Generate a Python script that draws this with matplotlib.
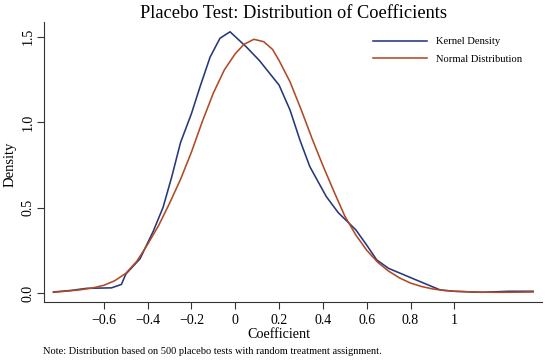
import matplotlib
matplotlib.use("Agg")
import matplotlib.pyplot as plt

# Kernel density
kd_x = [-0.83, -0.75, -0.68, -0.565, -0.52, -0.50, -0.435, -0.375, -0.33, -0.29, -0.25,
        -0.20, -0.16, -0.115, -0.07, -0.024, 0.05, 0.11, 0.20, 0.25, 0.295, 0.34, 0.415,
        0.47, 0.55, 0.60, 0.646, 0.70, 0.815, 0.935, 1.0, 1.125, 1.25, 1.36]
kd_y = [0.006, 0.015, 0.027, 0.030, 0.050, 0.110, 0.200, 0.360, 0.500, 0.680, 0.880,
        1.050, 1.210, 1.380, 1.490, 1.528, 1.440, 1.360, 1.216, 1.070, 0.895, 0.740, 0.565,
        0.470, 0.370, 0.280, 0.193, 0.144, 0.082, 0.018, 0.010, 0.004, 0.010, 0.010]

# Normal distribution
nd_x = [-0.83, -0.75, -0.70, -0.65, -0.60, -0.55, -0.50, -0.45, -0.40, -0.35, -0.30,
        -0.25, -0.20, -0.15, -0.10, -0.05, 0.00, 0.04, 0.085, 0.13, 0.17, 0.20, 0.25,
        0.30, 0.35, 0.40, 0.45, 0.50, 0.55, 0.60, 0.65, 0.70, 0.75, 0.80, 0.85, 0.90,
        0.95, 1.00, 1.10, 1.20, 1.30, 1.36]
nd_y = [0.004, 0.013, 0.020, 0.030, 0.045, 0.072, 0.115, 0.185, 0.285, 0.395, 0.525,
        0.665, 0.825, 1.005, 1.170, 1.305, 1.400, 1.455, 1.484, 1.470, 1.425, 1.360, 1.235,
        1.075, 0.905, 0.745, 0.595, 0.450, 0.340, 0.250, 0.180, 0.128, 0.088, 0.058, 0.038, 0.024,
        0.015, 0.010, 0.005, 0.004, 0.005, 0.006]

x_ticks = [-0.6, -0.4, -0.2, 0, 0.2, 0.4, 0.6, 0.8, 1]
x_ticklabels = ["\u22120.6", "\u22120.4", "\u22120.2", "0", "0.2", "0.4", "0.6", "0.8", "1"]
y_ticks = [0.0, 0.5, 1.0, 1.5]
y_ticklabels = ["0.0", "0.5", "1.0", "1.5"]

plt.rcParams['font.family'] = ['Liberation Serif', 'DejaVu Serif']

W, H = 550, 361
fig = plt.figure(figsize=(5.5, 3.61), dpi=100)
ax = fig.add_axes([44.3 / W, 1 - 301.7 / H, (541.7 - 44.3) / W, (301.7 - 21.7) / H])

blue = "#26387a"
orange = "#b04a26"
ax.plot(kd_x, kd_y, color=blue, lw=1.15, label="Kernel Density")
ax.plot(nd_x, nd_y, color=orange, lw=1.15, label="Normal Distribution")

ax.set_xlim(-0.872, 1.399)
ax.set_ylim(-0.051, 1.587)
for s in ["top", "right"]:
    ax.spines[s].set_visible(False)
for s in ["left", "bottom"]:
    ax.spines[s].set_linewidth(0.8)
    ax.spines[s].set_color("#333333")

ax.set_xticks(x_ticks)
ax.set_xticklabels(x_ticklabels, fontsize=10)
ax.set_yticks(y_ticks)
ax.set_yticklabels(y_ticklabels, fontsize=10, rotation=90, va="center")
ax.tick_params(direction="out", length=5, width=0.8, color="#333333")
ax.tick_params(axis="x", pad=4)
ax.tick_params(axis="y", pad=2)

ax.set_xlabel("Coefficient", fontsize=10.2)
ax.xaxis.set_label_coords((279 - 44.3) / (541.7 - 44.3), -(335 - 301.7) / 280)
ax.xaxis.label.set_va("center")
ax.set_ylabel("Density", fontsize=10.5)
ax.yaxis.set_label_coords(-(44.3 - 10) / (541.7 - 44.3), 0.49)
ax.yaxis.label.set_va("center")

fig.text(293.3 / W, 1 - 13 / H, "Placebo Test: Distribution of Coefficients",
         fontsize=13.2, ha="center", va="center")
fig.text(43 / W, 1 - 352 / H,
         "Note: Distribution based on 500 placebo tests with random treatment assignment.",
         fontsize=7.5, ha="left", va="center")

leg = ax.legend(loc="upper left", bbox_to_anchor=(373 / W, 1 - 37 / H),
                bbox_transform=fig.transFigure, frameon=False, fontsize=7.6,
                handlelength=5.1, handletextpad=0.85, labelspacing=0.75,
                borderpad=0, borderaxespad=0)

fig.savefig("out.png", dpi=100)
